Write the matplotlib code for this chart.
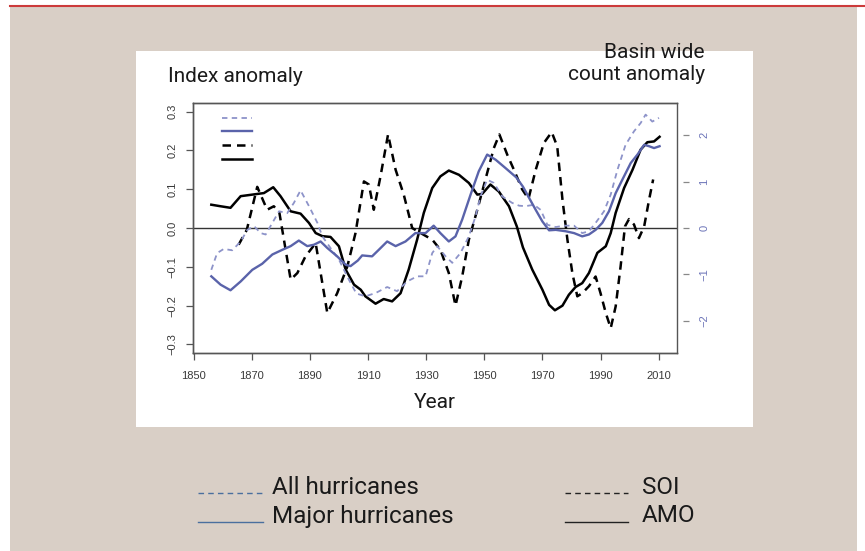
import matplotlib.pyplot as plt
from matplotlib.lines import Line2D
from matplotlib.patches import Rectangle

plt.rcParams['font.family'] = ['Roboto', 'DejaVu Sans']

# Major hurricanes (basin wide count anomaly, right axis)
major_years = [1856.1, 1859.3, 1862.7, 1866.2, 1870.2, 1873.6, 1877.1, 1880.5, 1883.4, 1886.2,
               1889.1, 1891.4, 1893.7, 1896.0, 1899.4, 1902.3, 1904.0, 1906.5, 1908.0, 1911.4,
               1913.7, 1916.6, 1919.5, 1922.9, 1926.3, 1929.8, 1932.6, 1934.9, 1937.8, 1940.1,
               1942.4, 1945.3, 1948.1, 1951.0, 1953.9, 1957.3, 1961.0, 1963.3, 1965.4, 1967.7,
               1970.0, 1972.3, 1974.6, 1978.0, 1980.9, 1983.7, 1986.0, 1988.3, 1990.6, 1992.9,
               1995.2, 1997.5, 2000.4, 2002.7, 2005.0, 2006.7, 2008.4, 2010.3]
major_vals = [-1.04, -1.22, -1.34, -1.15, -0.90, -0.77, -0.57, -0.47, -0.39, -0.27,
              -0.39, -0.36, -0.29, -0.43, -0.61, -0.79, -0.82, -0.70, -0.59, -0.61,
              -0.47, -0.29, -0.39, -0.29, -0.11, -0.11, 0.05, -0.11, -0.29, -0.18,
              0.18, 0.72, 1.22, 1.58, 1.47, 1.29, 1.09, 0.89, 0.65, 0.39,
              0.14, -0.05, -0.04, -0.07, -0.11, -0.18, -0.14, -0.04, 0.11, 0.36,
              0.75, 1.04, 1.40, 1.58, 1.79, 1.76, 1.72, 1.76]

# All hurricanes (basin wide count anomaly, right axis)
all_years = [1856.1, 1858.1, 1860.4, 1863.3, 1866.2, 1868.5, 1870.8, 1873.1, 1874.8, 1877.1,
             1879.4, 1882.2, 1884.5, 1886.8, 1889.7, 1892.6, 1894.3, 1897.1, 1900.0, 1903.4,
             1906.0, 1909.1, 1912.6, 1916.6, 1920.0, 1923.5, 1926.9, 1929.8, 1932.1, 1933.8,
             1936.7, 1939.0, 1941.8, 1944.7, 1947.0, 1948.7, 1951.0, 1953.3, 1956.2, 1959.6,
             1962.0, 1964.2, 1967.1, 1969.4, 1971.7, 1974.6, 1977.4, 1980.9, 1983.7, 1986.0,
             1988.3, 1991.2, 1993.5, 1995.8, 1998.6, 2001.5, 2003.8, 2005.5, 2007.8, 2010.1]
all_vals = [-0.90, -0.54, -0.45, -0.48, -0.29, -0.04, 0.04, -0.11, -0.14, 0.11,
            0.36, 0.32, 0.54, 0.81, 0.47, 0.11, -0.18, -0.43, -0.68, -1.11,
            -1.41, -1.47, -1.40, -1.27, -1.36, -1.15, -1.04, -1.04, -0.54, -0.39,
            -0.61, -0.75, -0.54, -0.18, 0.25, 0.68, 1.04, 0.97, 0.68, 0.54,
            0.48, 0.47, 0.50, 0.39, 0.07, 0.02, 0.05, 0.05, -0.11, -0.07,
            0.11, 0.36, 0.72, 1.25, 1.79, 2.08, 2.26, 2.44, 2.29, 2.37]

# SOI (index anomaly, left axis)
soi_years = [1865.5, 1868.3, 1871.9, 1875.3, 1877.6, 1879.5, 1883.4, 1885.7, 1888.5, 1892.0,
             1896.0, 1899.4, 1902.9, 1905.7, 1908.6, 1910.3, 1912.0, 1914.3, 1916.9, 1919.5,
             1922.3, 1925.2, 1928.1, 1932.1, 1934.9, 1937.8, 1940.1, 1942.4, 1944.7, 1947.6,
             1950.4, 1953.3, 1955.2, 1957.9, 1960.2, 1963.0, 1965.2, 1967.7, 1970.5, 1973.2,
             1975.1, 1976.9, 1978.6, 1980.3, 1982.0, 1983.7, 1986.0, 1988.3, 1990.0, 1991.8,
             1993.5, 1995.2, 1996.9, 1998.4, 1999.8, 2001.5, 2003.2, 2005.0, 2006.7, 2008.1]
soi_vals = [-0.043, -0.005, 0.106, 0.047, 0.056, 0.040, -0.133, -0.116, -0.073, -0.039,
            -0.219, -0.168, -0.099, -0.013, 0.120, 0.112, 0.047, 0.133, 0.241, 0.150,
            0.086, 0.000, -0.013, -0.030, -0.056, -0.116, -0.200, -0.125, -0.030, 0.047,
            0.125, 0.206, 0.241, 0.189, 0.150, 0.100, 0.075, 0.150, 0.219, 0.247,
            0.210, 0.073, -0.030, -0.116, -0.176, -0.168, -0.150, -0.125, -0.168, -0.219,
            -0.258, -0.202, -0.099, 0.004, 0.023, 0.009, -0.026, 0.004, 0.073, 0.125]

# AMO (index anomaly, left axis)
amo_years = [1856.1, 1859.3, 1862.7, 1866.2, 1870.2, 1874.2, 1877.4, 1879.9, 1883.4, 1886.8,
             1889.7, 1892.0, 1894.3, 1897.1, 1900.0, 1902.3, 1905.2, 1907.5, 1909.1, 1912.6,
             1915.4, 1918.3, 1921.2, 1924.0, 1926.9, 1929.2, 1932.1, 1934.9, 1937.8, 1941.3,
             1944.7, 1947.6, 1949.3, 1952.1, 1955.0, 1958.5, 1961.2, 1963.3, 1966.5, 1970.0,
             1972.3, 1974.3, 1976.9, 1979.1, 1981.4, 1983.7, 1986.0, 1988.9, 1991.8, 1993.5,
             1995.2, 1998.1, 2001.0, 2003.8, 2006.1, 2008.4, 2010.3]
amo_vals = [0.060, 0.056, 0.052, 0.082, 0.086, 0.090, 0.105, 0.082, 0.043, 0.037,
            0.013, -0.013, -0.021, -0.023, -0.047, -0.107, -0.146, -0.159, -0.176, -0.195,
            -0.183, -0.189, -0.168, -0.107, -0.030, 0.039, 0.103, 0.133, 0.148, 0.137,
            0.116, 0.086, 0.088, 0.112, 0.094, 0.056, 0.004, -0.050, -0.107, -0.159,
            -0.198, -0.212, -0.200, -0.172, -0.152, -0.142, -0.116, -0.064, -0.047, -0.013,
            0.039, 0.103, 0.150, 0.202, 0.221, 0.223, 0.235]

x_ticks = [1850, 1870, 1890, 1910, 1930, 1950, 1970, 1990, 2010]
left_ticks = [-0.3, -0.2, -0.1, 0.0, 0.1, 0.2, 0.3]
right_ticks = [-2, -1, 0, 1, 2]

W, H = 865, 551
beige = '#d9cfc6'
blue = '#5a63aa'
light_blue = '#8d93c9'
grey = '#555555'

fig = plt.figure(figsize=(W / 100, H / 100), dpi=100)
fig.patch.set_facecolor('white')

# page decoration
fig.add_artist(Rectangle((10 / W, 0), 847 / W, 1 - 7 / H, transform=fig.transFigure,
                         facecolor=beige, edgecolor='none', zorder=-3))
fig.add_artist(Rectangle((136 / W, 1 - 427 / H), 617 / W, 376 / H, transform=fig.transFigure,
                         facecolor='white', edgecolor='none', zorder=-2))
fig.add_artist(Line2D([10 / W, 1], [1 - 6 / H, 1 - 6 / H], transform=fig.transFigure,
                      color='#cc3a3a', lw=1.5))

ax = fig.add_axes([193 / W, 1 - 353 / H, 484 / W, 250 / H])
ax.set_facecolor('none')
ax2 = ax.twinx()

ax.axhline(0, color='#333333', lw=1.0)
ax.plot(soi_years, soi_vals, color='black', lw=1.8, ls=(0, (3.4, 2.4)))
ax.plot(amo_years, amo_vals, color='black', lw=1.8)
ax2.plot(all_years, all_vals, color=light_blue, lw=1.3, ls=(0, (3.0, 2.4)))
ax2.plot(major_years, major_vals, color=blue, lw=1.7)

ax.set_xlim(1849.8, 2016.3)
ax.set_ylim(-0.322, 0.322)
ax2.set_ylim(-2.69, 2.69)

ax.set_xticks(x_ticks)
ax.set_yticks(left_ticks)
ax.set_yticklabels(['\u22120.3', '\u22120.2', '\u22120.1', '0.0', '0.1', '0.2', '0.3'])
ax2.set_yticks(right_ticks)
ax2.set_yticklabels(['\u22122', '\u22121', '0', '1', '2'])

for a in (ax, ax2):
    for s in a.spines.values():
        s.set_color(grey)
        s.set_linewidth(1.0)
ax.tick_params(axis='both', colors=grey, labelcolor='#3a3a3a', labelsize=8,
               length=5, width=0.9, labelfontfamily='Liberation Sans')
ax.tick_params(axis='x', pad=8)
ax.tick_params(axis='y', pad=6, labelrotation=90)
for lab in ax.get_yticklabels():
    lab.set_verticalalignment('center')
ax2.spines['right'].set_position(('outward', 4))
ax2.spines['right'].set_color('none')
ax2.tick_params(axis='y', colors='#888888', labelcolor='#6c74b8', labelsize=8,
                length=4, width=0.9, pad=8, labelrotation=90,
                labelfontfamily='Liberation Sans')
for lab in ax2.get_yticklabels():
    lab.set_verticalalignment('center')

# in-plot legend keys (labels blanked in the source)
key_styles = [(light_blue, 1.3, (0, (3.0, 2.4))), (blue, 1.7, '-'),
              ('black', 1.8, (0, (3.4, 2.4))), ('black', 1.8, '-')]
key_y = [0.94, 0.888, 0.832, 0.776]
for (c, lw, ls), yy in zip(key_styles, key_y):
    ax.plot([0.06, 0.122], [yy, yy], transform=ax.transAxes, color=c, lw=lw, ls=ls)

# titles
fig.text(168 / W, 1 - 76 / H, 'Index anomaly', ha='left', va='center',
         fontsize=15, color='#1a1a1a')
fig.text(705 / W, 1 - 53 / H, 'Basin wide', ha='right', va='center',
         fontsize=15, color='#1a1a1a')
fig.text(705 / W, 1 - 75 / H, 'count anomaly', ha='right', va='center',
         fontsize=15, color='#1a1a1a')
fig.text(435 / W, 1 - 403 / H, 'Year', ha='center', va='center',
         fontsize=15, color='#1a1a1a')

# bottom legend
legend_items = [('All hurricanes', '#4a6f9e', '--', 198, 263, 272, 487),
                ('Major hurricanes', '#4a6f9e', '-', 198, 263, 272, 516),
                ('SOI', '#222222', '--', 565, 628, 642, 487),
                ('AMO', '#222222', '-', 565, 628, 642, 516)]
for label, c, ls, x0, x1, tx, ty in legend_items:
    fig.add_artist(Line2D([x0 / W, x1 / W], [1 - (ty + 6) / H, 1 - (ty + 6) / H],
                          transform=fig.transFigure, color=c, lw=1.0, ls=ls,
                          dashes=(4, 3) if ls == '--' else (None, None)))
    fig.text(tx / W, 1 - ty / H, label, ha='left', va='center', fontsize=17.5,
             color='#1a1a1a')

fig.savefig('out.png', dpi=100)
